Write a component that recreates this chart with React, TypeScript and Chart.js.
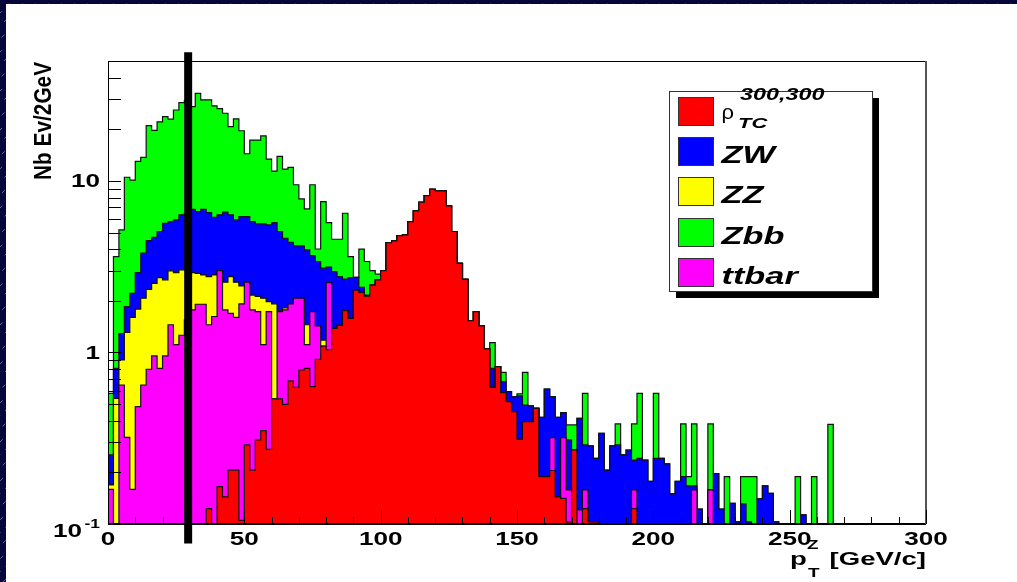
import React, { useEffect, useRef } from 'react';
import { Chart, registerables } from 'chart.js';

Chart.register(...registerables);

// ---------------- data (cumulative THStack heights, 2 GeV bins, 0..300 GeV) ----------------
const BIN_WIDTH = 2;
const X_MIN = 0;
const X_MAX = 300;
const Y_MIN = 0.1;
const Y_MAX = 50;

// rho_TC (bottom of the stack)
const stackRho = [
  0, 0, 0, 0, 0, 0, 0, 0, 0, 0,
  0, 0, 0, 0, 0, 0, 0, 0, 0.123, 0,
  0.165, 0.144, 0.206, 0.206, 0.105, 0.289, 0.206, 0.309, 0.35, 0.272,
  0.536, 0.536, 0.498, 0.682, 0.626, 0.79, 0.808, 0.632, 0.912, 1.09,
  1.04, 1.38, 1.44, 1.75, 1.58, 2.31, 2.24, 2.13, 2.47, 2.65,
  3.0, 4.37, 4.47, 4.8, 4.84, 5.79, 6.68, 7.51, 8.21, 8.94,
  8.74, 8.74, 7.15, 5.07, 3.31, 2.67, 1.53, 1.73, 1.43, 1.05,
  0.626, 0.827, 0.583, 0.517, 0.452, 0.312, 0.395, 0.395, 0.472, 0.189,
  0.189, 0.205, 0.144, 0.141, 0.103, 0.27, 0, 0.123, 0.103, 0.103,
  0, 0, 0, 0, 0, 0, 0.123, 0, 0, 0,
  0, 0, 0, 0, 0, 0, 0, 0, 0, 0,
  0, 0, 0, 0, 0, 0, 0, 0, 0, 0,
  0, 0, 0, 0, 0, 0, 0, 0, 0, 0,
  0, 0, 0, 0, 0, 0, 0, 0, 0, 0,
  0, 0, 0, 0, 0, 0, 0, 0, 0, 0,
];

// rho_TC + ttbar
const stackTtbar = [
  0.159, 0, 0.646, 0.32, 0.159, 0.483, 0.646, 0.798, 0.954, 0.808,
  0.954, 1.45, 1.11, 1.26, 1.55, 1.77, 1.91, 1.91, 1.45, 1.62,
  3.0, 1.77, 1.69, 1.6, 1.92, 2.57, 1.77, 1.73, 1.11, 1.73,
  0.536, 1.73, 1.77, 1.92, 2.07, 2.07, 1.11, 1.73, 1.43, 1.09,
  2.55, 1.38, 1.44, 1.75, 1.58, 2.31, 2.24, 2.13, 2.47, 2.65,
  3.0, 4.37, 4.47, 4.8, 4.84, 5.79, 6.68, 7.51, 8.21, 8.94,
  8.74, 8.74, 7.15, 5.07, 3.31, 2.67, 1.53, 1.73, 1.43, 1.05,
  0.626, 0.827, 0.583, 0.517, 0.452, 0.312, 0.395, 0.395, 0.472, 0.189,
  0.189, 0.319, 0.144, 0.319, 0.158, 0.27, 0.121, 0.158, 0.103, 0.103,
  0, 0, 0, 0, 0, 0, 0.158, 0, 0, 0,
  0, 0, 0, 0, 0, 0, 0, 0.158, 0, 0,
  0.158, 0, 0, 0, 0, 0, 0, 0, 0, 0,
  0, 0, 0, 0, 0, 0, 0, 0, 0, 0,
  0, 0, 0, 0, 0, 0, 0, 0, 0, 0,
  0, 0, 0, 0, 0, 0, 0, 0, 0, 0,
];

// + ZZ
const stackZZ = [
  0.169, 0.54, 0.904, 1.31, 1.6, 1.79, 2.07, 2.33, 2.53, 2.73,
  2.65, 2.99, 2.92, 3.03, 3.03, 2.92, 2.89, 2.83, 2.77, 2.83,
  3.0, 2.57, 2.77, 2.57, 2.44, 2.57, 2.16, 2.12, 2.07, 1.98,
  1.92, 1.75, 1.82, 1.92, 2.07, 2.07, 1.45, 1.73, 1.43, 1.18,
  2.55, 1.38, 1.44, 1.75, 1.58, 2.31, 2.24, 2.13, 2.47, 2.65,
  3.0, 4.37, 4.47, 4.8, 4.84, 5.79, 6.68, 7.51, 8.21, 8.94,
  8.74, 8.74, 7.15, 5.07, 3.31, 2.67, 1.53, 1.73, 1.43, 1.05,
  0.626, 0.827, 0.583, 0.517, 0.452, 0.312, 0.395, 0.395, 0.472, 0.189,
  0.189, 0.319, 0.144, 0.319, 0.158, 0.27, 0.121, 0.158, 0.103, 0.103,
  0, 0, 0, 0, 0, 0, 0.158, 0, 0, 0,
  0, 0, 0, 0, 0, 0, 0, 0.158, 0, 0,
  0.158, 0, 0, 0, 0, 0, 0, 0, 0, 0,
  0, 0, 0, 0, 0, 0, 0, 0, 0, 0,
  0, 0, 0, 0, 0, 0, 0, 0, 0, 0,
  0, 0, 0, 0, 0, 0, 0, 0, 0, 0,
];

// + ZW
const stackZW = [
  0.253, 0.808, 1.29, 1.85, 2.21, 2.92, 3.79, 4.49, 4.69, 5.07,
  5.66, 5.79, 5.92, 6.34, 6.48, 6.83, 6.62, 6.83, 6.54, 6.14,
  6.34, 6.57, 6.34, 5.92, 6.19, 6.19, 5.79, 5.61, 5.61, 5.54,
  5.71, 5.07, 4.63, 4.39, 4.18, 4.18, 3.96, 3.67, 3.39, 3.1,
  3.14, 2.96, 2.77, 2.68, 2.73, 2.74, 2.4, 2.16, 2.47, 2.65,
  3.0, 4.37, 4.47, 4.8, 4.84, 5.79, 6.68, 7.51, 8.21, 8.94,
  8.74, 8.74, 7.15, 5.07, 3.31, 2.67, 1.53, 1.73, 1.43, 1.05,
  0.808, 0.827, 0.676, 0.591, 0.553, 0.558, 0.494, 0.488, 0.472, 0.419,
  0.612, 0.553, 0.419, 0.446, 0.309, 0.27, 0.413, 0.289, 0.285, 0.241,
  0.338, 0.206, 0.285, 0.289, 0.253, 0.27, 0.236, 0.241, 0.236, 0.177,
  0.241, 0.241, 0.224, 0.15, 0.177, 0.189, 0.167, 0.167, 0.122, 0,
  0.158, 0.197, 0.122, 0, 0.132, 0.103, 0.131, 0.103, 0, 0.14,
  0.167, 0.151, 0.103, 0, 0, 0, 0, 0.113, 0, 0,
  0, 0, 0, 0, 0, 0, 0, 0, 0, 0,
  0, 0, 0, 0, 0, 0, 0, 0, 0, 0,
];

// + Zbb (top of the stack)
const stackZbb = [
  0.578, 3.62, 5.18, 10.5, 10.1, 13.0, 13.7, 21.0, 19.7, 22.1,
  23.7, 22.9, 25.9, 28.6, 29.4, 27.1, 32.4, 29.7, 29.7, 27.4,
  26.4, 24.8, 20.7, 23.0, 19.6, 14.4, 17.3, 17.3, 18.3, 13.4,
  11.4, 13.9, 11.7, 12.0, 9.5, 7.85, 6.87, 9.5, 4.01, 7.57,
  5.71, 4.57, 4.57, 6.48, 3.62, 2.74, 4.0, 3.39, 3.0, 2.86,
  3.0, 4.37, 4.47, 4.8, 4.84, 5.79, 6.68, 7.51, 8.21, 8.94,
  8.74, 8.74, 7.15, 5.07, 3.31, 2.67, 1.53, 1.73, 1.43, 1.05,
  1.14, 0.827, 0.766, 0.591, 0.553, 0.573, 0.766, 0.488, 0.472, 0.419,
  0.612, 0.553, 0.419, 0.446, 0.378, 0.378, 0.413, 0.578, 0.285, 0.241,
  0.338, 0.206, 0.285, 0.383, 0.253, 0.27, 0.383, 0.578, 0.236, 0.177,
  0.578, 0.241, 0.224, 0.15, 0.177, 0.383, 0.189, 0.383, 0.122, 0,
  0.383, 0.197, 0.122, 0.189, 0.132, 0.103, 0.189, 0.189, 0.189, 0.14,
  0.167, 0.151, 0.103, 0, 0, 0, 0.189, 0.113, 0, 0.189,
  0, 0, 0.381, 0, 0, 0, 0, 0, 0, 0,
  0, 0, 0, 0, 0, 0, 0, 0, 0, 0,
];

// vertical cut line
const cutPt = 29.4;
const cutLineLow = 0.077;
const cutLineHigh = 56.3;

// axes
const xMajorTicks = [0, 50, 100, 150, 200, 250, 300];
const xMinorTicks = [10, 20, 30, 40, 60, 70, 80, 90, 110, 120, 130, 140, 160, 170, 180, 190, 210, 220, 230, 240, 260, 270, 280, 290];
const yMajorTicks = [0.1, 1, 10];
const yMinorTicks = [0.2, 0.3, 0.4, 0.5, 0.6, 0.7, 0.8, 0.9, 2, 3, 4, 5, 6, 7, 8, 9, 20, 30, 40];
const xTickLabels = ['0', '50', '100', '150', '200', '250', '300'];
const yTickLabels = ['10', '1', '10'];

const legendLabels = ['\u03C1', 'ZW', 'ZZ', 'Zbb', 'ttbar'];
const legendColors = ['#ff0000', '#0000ff', '#ffff00', '#00ff00', '#ff00ff'];

const EMPTY = 0.01; // empty bins sit below the axis minimum

function histPoints(values: number[]) {
  const pts = values.map((v, i) => ({ x: X_MIN + i * BIN_WIDTH, y: v > 0 ? v : EMPTY }));
  const last = values[values.length - 1];
  pts.push({ x: X_MIN + values.length * BIN_WIDTH, y: last > 0 ? last : EMPTY });
  return pts;
}

const FONT = '"Liberation Sans", Arial, Helvetica, sans-serif';
const SX = 1.45;

function txt(ctx: CanvasRenderingContext2D, s: string, x: number, y: number, size: number, style: string, align: CanvasTextAlign, sx = SX) {
  ctx.save();
  ctx.translate(x, y);
  ctx.scale(sx, 1);
  ctx.font = `${style} ${size}px ${FONT}`;
  ctx.textAlign = align;
  ctx.textBaseline = 'alphabetic';
  ctx.fillStyle = '#000';
  ctx.fillText(s, 0, 0);
  ctx.restore();
}

const backgroundPlugin = {
  id: 'rootBackground',
  beforeDraw(chart: any) {
    const ctx = chart.ctx as CanvasRenderingContext2D;
    const W = chart.canvas.width;
    const H = chart.canvas.height;
    ctx.save();
    ctx.fillStyle = '#06063a';
    ctx.fillRect(0, 0, W, H);
    ctx.strokeStyle = 'rgba(170,180,240,0.55)';
    ctx.lineWidth = 1;
    ctx.setLineDash([4, 7]);
    for (let s = -H; s < W; s += 13) {
      ctx.beginPath();
      ctx.moveTo(s, H);
      ctx.lineTo(s + H, 0);
      ctx.stroke();
    }
    ctx.setLineDash([]);
    ctx.fillStyle = '#ffffff';
    ctx.fillRect(6, 4, W, H);
    ctx.restore();
  },
};

const decorPlugin = {
  id: 'rootDecor',
  afterDraw(chart: any) {
    const ctx = chart.ctx as CanvasRenderingContext2D;
    const xs = chart.scales.x;
    const ys = chart.scales.y;
    const { left, right, top, bottom } = chart.chartArea;
    ctx.save();

    // frame
    ctx.strokeStyle = '#000';
    ctx.lineWidth = 1;
    ctx.strokeRect(left + 0.5, top + 0.5, right - left - 1, bottom - top);
    ctx.lineWidth = 2;
    ctx.beginPath();
    ctx.moveTo(left, bottom);
    ctx.lineTo(right, bottom);
    ctx.stroke();
    ctx.strokeStyle = '#555';
    ctx.beginPath();
    ctx.moveTo(right, top);
    ctx.lineTo(right, bottom);
    ctx.stroke();

    // x ticks
    ctx.strokeStyle = '#000';
    ctx.lineWidth = 1;
    xMajorTicks.forEach((v) => {
      const px = Math.round(xs.getPixelForValue(v)) + 0.5;
      ctx.beginPath();
      ctx.moveTo(px, bottom);
      ctx.lineTo(px, bottom - 14);
      ctx.stroke();
    });
    xMinorTicks.forEach((v) => {
      const px = Math.round(xs.getPixelForValue(v)) + 0.5;
      ctx.beginPath();
      ctx.moveTo(px, bottom);
      ctx.lineTo(px, bottom - 7);
      ctx.stroke();
    });
    // y ticks
    [...yMajorTicks, ...yMinorTicks].forEach((v) => {
      const py = Math.round(ys.getPixelForValue(v)) + 0.5;
      ctx.beginPath();
      ctx.moveTo(left, py);
      ctx.lineTo(left + 13, py);
      ctx.stroke();
    });

    // x tick labels
    xMajorTicks.forEach((v, i) => {
      txt(ctx, xTickLabels[i], xs.getPixelForValue(v), bottom + 20.5, 18, 'bold', 'center');
    });
    // y tick labels
    yMajorTicks.forEach((v, i) => {
      const py = ys.getPixelForValue(v);
      if (i === 0) {
        txt(ctx, yTickLabels[i], left - 26, py + 13, 18, 'bold', 'right');
        txt(ctx, '-1', left - 8, py + 3.5, 12, 'bold', 'right');
      } else {
        txt(ctx, yTickLabels[i], left - 8, py + 6.5, 18, 'bold', 'right');
      }
    });

    // axis titles
    txt(ctx, 'p', 790, 565, 19, 'bold', 'left');
    txt(ctx, 'Z', 807, 548.5, 13, 'bold', 'left');
    txt(ctx, 'T', 808, 576.5, 13, 'bold', 'left');
    txt(ctx, '[GeV/c]', right, 565, 19, 'bold', 'right');

    ctx.save();
    ctx.translate(50.5, top + 1);
    ctx.rotate(-Math.PI / 2);
    ctx.scale(1, 1.15);
    ctx.font = `bold 20.8px ${FONT}`;
    ctx.textAlign = 'right';
    ctx.textBaseline = 'alphabetic';
    ctx.fillStyle = '#000';
    ctx.fillText('Nb Ev/2GeV', 0, 0);
    ctx.restore();

    // legend
    const lx = 669.5, ly = 91.5, lw = 203, lh = 200;
    ctx.fillStyle = '#000';
    ctx.fillRect(lx + 6.5, ly + 6.5, lw, lh);
    ctx.fillStyle = '#fff';
    ctx.fillRect(lx, ly, lw, lh);
    ctx.strokeStyle = '#333';
    ctx.lineWidth = 1;
    ctx.strokeRect(lx, ly, lw, lh);
    const rowTops = [97.5, 137.5, 177.5, 218.5, 258.5];
    legendLabels.forEach((label, i) => {
      const by = rowTops[i];
      ctx.fillStyle = legendColors[i];
      ctx.fillRect(678.5, by, 35, 28);
      ctx.strokeStyle = '#333';
      ctx.strokeRect(678.5, by, 35, 28);
      if (i === 0) {
        txt(ctx, label, 721.5, 118.8, 20, 'normal', 'left', 1.1);
        txt(ctx, '300,300', 740, 100, 16, 'italic bold', 'left', 1.46);
        txt(ctx, 'TC', 738, 128, 15, 'italic bold', 'left', 1.46);
      } else {
        txt(ctx, label, 721.5, by + 25, 23.5, 'italic bold', 'left', 1.46);
      }
    });

    ctx.restore();
  },
};

function histDataset(values: number[], color: string) {
  return {
    data: histPoints(values),
    stepped: true,
    fill: 'start',
    backgroundColor: color,
    borderColor: '#111',
    borderWidth: 1.2,
    pointRadius: 0,
    tension: 0,
    order: 0,
  };
}

export default function App() {
  const ref = useRef<HTMLCanvasElement>(null);

  useEffect(() => {
    document.documentElement.style.margin = '0';
    document.documentElement.style.overflow = 'hidden';
    document.body.style.margin = '0';
    document.body.style.overflow = 'hidden';
    document.body.style.background = '#ffffff';
    const canvas = ref.current;
    if (!canvas) return;
    const chart = new Chart(canvas, {
      type: 'line',
      data: {
        datasets: [
          histDataset(stackRho, '#ff0000'),
          histDataset(stackTtbar, '#ff00ff'),
          histDataset(stackZZ, '#ffff00'),
          histDataset(stackZW, '#0000ff'),
          histDataset(stackZbb, '#00ff00'),
          {
            data: [
              { x: cutPt, y: cutLineLow },
              { x: cutPt, y: cutLineHigh },
            ],
            borderColor: '#000',
            borderWidth: 8,
            pointRadius: 0,
            fill: false,
            clip: false,
            order: -1,
          },
        ] as any,
      },
      options: {
        responsive: false,
        animation: false,
        devicePixelRatio: 1,
        events: [],
        layout: { padding: { left: 108, right: 91, top: 61, bottom: 58 } },
        plugins: {
          legend: { display: false },
          tooltip: { enabled: false },
        },
        scales: {
          x: { type: 'linear', min: X_MIN, max: X_MAX, display: false },
          y: { type: 'logarithmic', min: Y_MIN, max: Y_MAX, display: false },
        },
      } as any,
      plugins: [backgroundPlugin, decorPlugin],
    });
    return () => chart.destroy();
  }, []);

  return (
    <div style={{ position: 'fixed', left: 0, top: 0, width: 1017, height: 582 }}>
      <canvas ref={ref} width={1017} height={582} style={{ display: 'block', width: 1017, height: 582 }} />
    </div>
  );
}
